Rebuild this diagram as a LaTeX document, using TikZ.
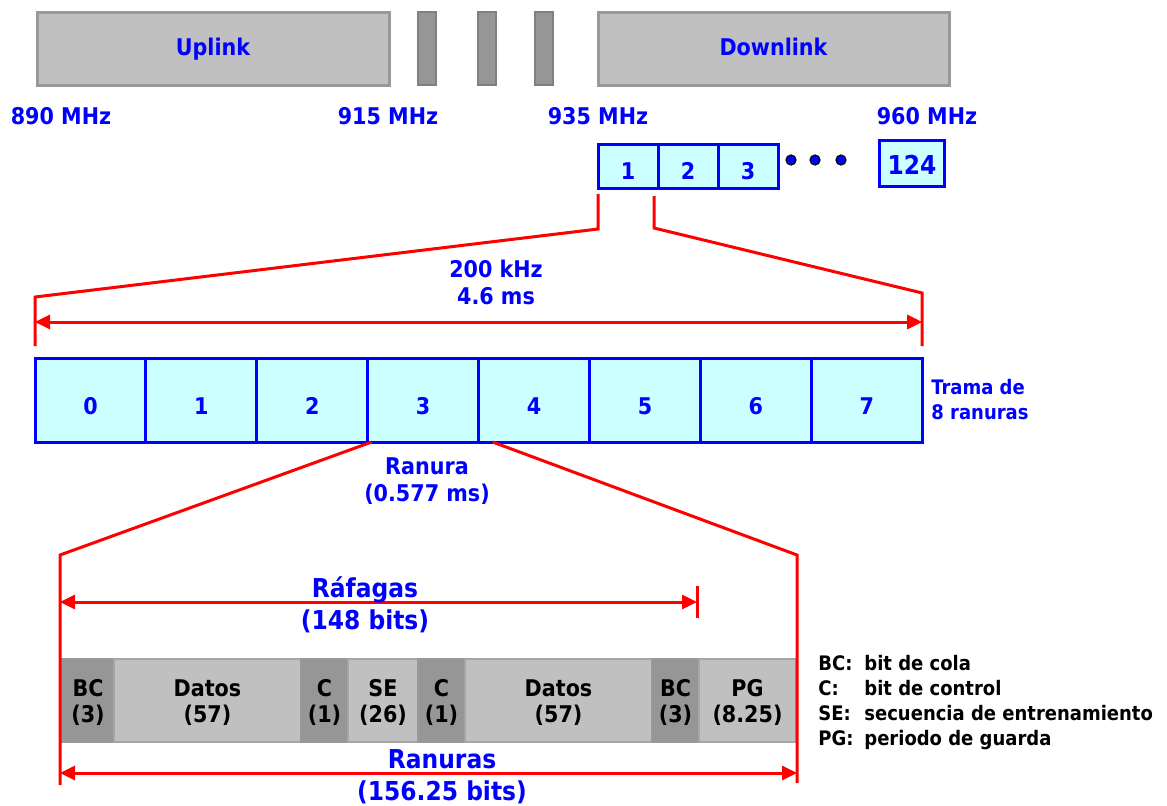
\documentclass[tikz,border=0pt]{standalone}
\usepackage{fontspec}
\setmainfont{DejaVu Sans Condensed}
\usepackage{tikz}
\usetikzlibrary{arrows.meta,positioning}
\definecolor{gsmblue}{HTML}{0000FF}
\definecolor{gsmcyan}{HTML}{CCFFFF}
\definecolor{gsmred}{HTML}{FF0000}
\definecolor{bandgrey}{HTML}{C0C0C0}
\definecolor{bandedge}{HTML}{999999}
\definecolor{bargrey}{HTML}{969696}
\definecolor{baredge}{HTML}{808080}
\definecolor{segedge}{HTML}{A6A6A6}

\begin{document}
\begin{tikzpicture}[x=0.5pt,y=-0.5pt,
  lbl/.style={font=\bfseries\fontsize{11.5}{13.5}\selectfont,text=gsmblue,align=center,inner sep=0pt},
  biglbl/.style={font=\bfseries\fontsize{13}{16}\selectfont,text=gsmblue,align=center,inner sep=0pt},
  band/.style={draw=bandedge,fill=bandgrey,line width=1.5pt,minimum height=36.5pt,inner sep=0pt,
    font=\bfseries\fontsize{11.5}{13.5}\selectfont,text=gsmblue,text height=9pt,text depth=2.5pt},
  bar/.style={draw=baredge,fill=bargrey,line width=0.8pt,minimum width=9pt,minimum height=36.5pt,inner sep=0pt},
  chan/.style={draw=gsmblue,fill=gsmcyan,line width=1.5pt,minimum width=30pt,minimum height=22pt,
    inner sep=0pt,outer sep=0pt,font=\bfseries\fontsize{11.5}{13.5}\selectfont,text=gsmblue,text height=13.5pt},
  slot/.style={chan,minimum width=55.45pt,minimum height=42pt,text height=14.5pt},
  dotmark/.style={circle,draw=black,fill=gsmblue,line width=0.6pt,minimum size=5pt,inner sep=0pt},
  seg/.style={draw=segedge,line width=1pt,minimum height=41.5pt,inner sep=0pt,outer sep=0pt,align=center,
    font=\bfseries\fontsize{11.5}{13}\selectfont,text=black,text height=24pt},
  darkseg/.style={seg,fill=bargrey,draw=baredge!80},
  lightseg/.style={seg,fill=bandgrey},
  zoomline/.style={gsmred,line width=1.5pt},
  dimline/.style={zoomline,{Triangle[length=7.5pt,width=7pt]}-{Triangle[length=7.5pt,width=7pt]}},
  legendtxt/.style={font=\bfseries\fontsize{10}{12.5}\selectfont,text=black,align=left,inner sep=0pt}]
\useasboundingbox (0,0) rectangle (1167,805);

% frequency bands
\node[band,minimum width=176pt] (up) at (213,48.5) {Uplink};
\node[bar] (bar1) at (427,48.5) {};
\node[bar] (bar2) at (487,48.5) {};
\node[bar] (bar3) at (544,48.5) {};
\node[band,minimum width=175.5pt] (down) at (773.5,48.5) {Downlink};
\node[lbl] (f890) at (61,116) {890 MHz};
\node[lbl] (f915) at (388,116) {915 MHz};
\node[lbl] (f935) at (598,116) {935 MHz};
\node[lbl] (f960) at (927,116) {960 MHz};

% carriers
\node[chan] (ch1) at (628,166) {1};
\node[chan,right=0pt of ch1] (ch2) {2};
\node[chan,right=0pt of ch2] (ch3) {3};
\node[dotmark] (d1) at (791,160) {};
\node[dotmark] (d2) at (815,160) {};
\node[dotmark] (d3) at (841,160) {};
\node[chan,minimum width=32.5pt,minimum height=23pt,text height=11pt,
  font=\bfseries\fontsize{13}{15}\selectfont] (ch124) at (912,163.5) {124};

% TDMA frame
\foreach \i in {0,...,7}
  \node[slot] (s\i) at ({90.45+110.9*\i},400) {\i};
\node[font=\bfseries\fontsize{10}{12.5}\selectfont,text=gsmblue,align=left,inner sep=0pt,
  anchor=west] (trama) at (931,400) {Trama de\\8 ranuras};

\coordinate (fl) at ([yshift=30.5pt]s0.north west);
\coordinate (fr) at ([yshift=32.5pt]s7.north east);
\draw[zoomline] ([yshift=-3pt]ch1.south west) -- ++(0,35) -- (fl) -- ([yshift=6pt]s0.north west);
\draw[zoomline] ([xshift=-2pt,yshift=-4pt]ch1.south east) -- ++(0,32) -- (fr) -- ([yshift=6pt]s7.north east);
\draw[dimline] ([yshift=18pt]s0.north west) -- ([yshift=18pt]s7.north east);
\node[lbl] (bw) at (496,282) {200 kHz\\4.6 ms};
\node[lbl] (ranura) at (427,481) {Ranura\\(0.577 ms)};

% burst
\node[darkseg,minimum width=26pt,anchor=west] (b1) at (62,700) {BC\\(3)};
\node[lightseg,minimum width=93.5pt,right=0pt of b1] (b2) {Datos\\(57)};
\node[darkseg,minimum width=23.5pt,right=0pt of b2] (b3) {C\\(1)};
\node[lightseg,minimum width=35pt,right=0pt of b3] (b4) {SE\\(26)};
\node[darkseg,minimum width=23.5pt,right=0pt of b4] (b5) {C\\(1)};
\node[lightseg,minimum width=93.5pt,right=0pt of b5] (b6) {Datos\\(57)};
\node[darkseg,minimum width=23.5pt,right=0pt of b6] (b7) {BC\\(3)};
\node[lightseg,minimum width=48.5pt,right=0pt of b7] (b8) {PG\\(8.25)};

\coordinate (bl) at (60,555);
\coordinate (br) at (797,555);
\draw[zoomline] ([xshift=2pt]s3.south west) -- (bl) -- (60,785);
\draw[zoomline] ([xshift=7pt]s4.south west) -- (br) -- (797,783);

\coordinate (rafa) at (60,602);
\coordinate (rafb) at (697,602);
\draw[dimline] (rafa) -- (rafb);
\draw[zoomline] ([yshift=8pt]rafb) -- ([yshift=-8pt]rafb);
\node[biglbl] (rafagas) at (365,605) {Ráfagas\\(148 bits)};

\coordinate (rana) at (60,773);
\coordinate (ranb) at (797,773);
\draw[dimline] (rana) -- (ranb);
\node[biglbl] (ranuras) at (442,777) {Ranuras\\(156.25 bits)};

% legend
\node[legendtxt,anchor=north west] (legend) at (818,655) {%
  \makebox[23pt][l]{BC:}bit de cola\\
  \makebox[23pt][l]{C:}bit de control\\
  \makebox[23pt][l]{SE:}secuencia de entrenamiento\\
  \makebox[23pt][l]{PG:}periodo de guarda};
\end{tikzpicture}
\end{document}
